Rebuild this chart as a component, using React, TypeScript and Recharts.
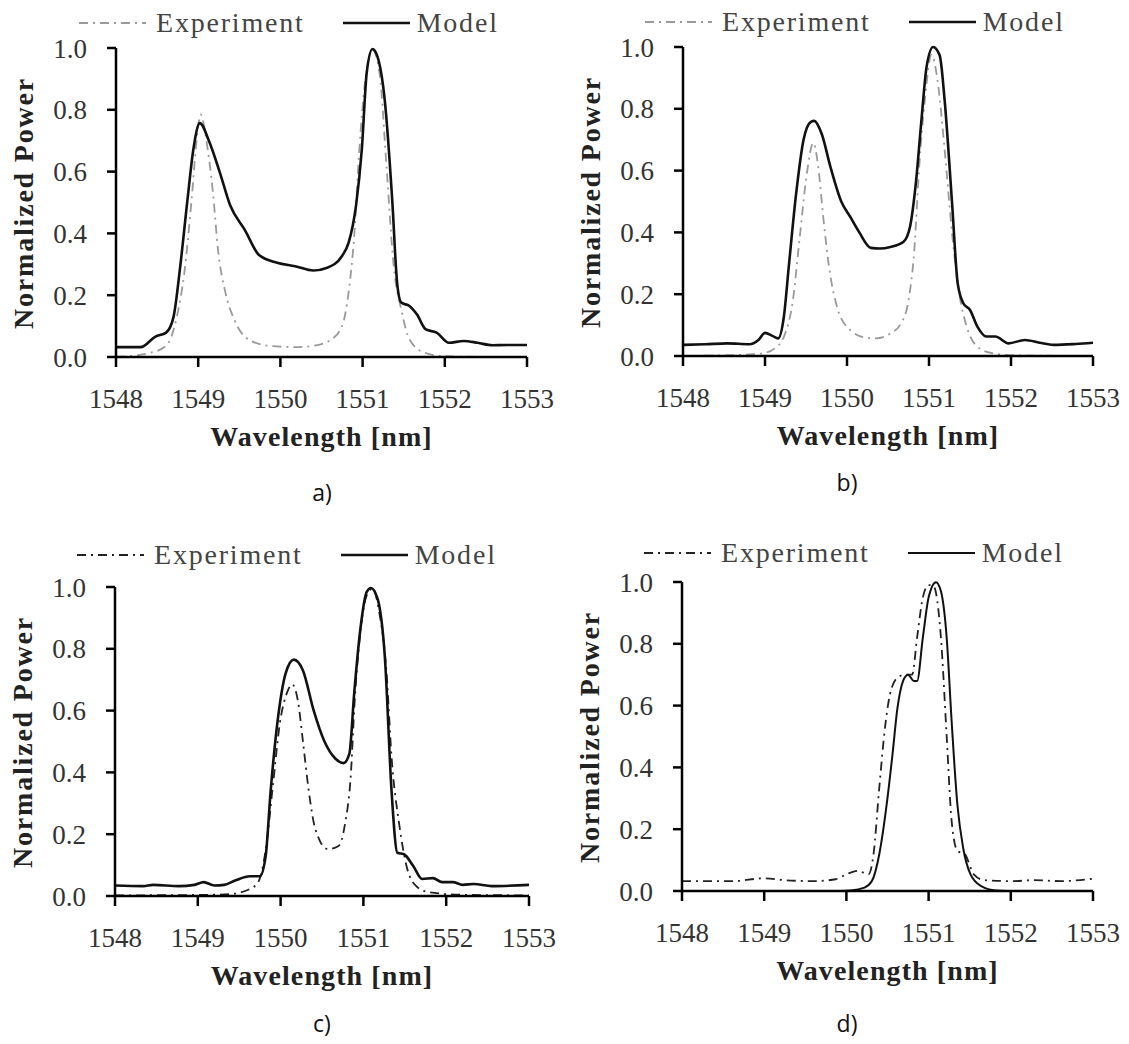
import { LineChart, Line, XAxis, YAxis, Legend } from 'recharts';

const SERIF = '"Liberation Serif", "Times New Roman", serif';

const xTicks = [1548, 1549, 1550, 1551, 1552, 1553];
const yTicks = [0, 0.2, 0.4, 0.6, 0.8, 1.0];

// panel a)
const aExpWl = [1548, 1548.39, 1548.61, 1548.74, 1548.83, 1548.92, 1548.98, 1549.03, 1549.1, 1549.18, 1549.24, 1549.33, 1549.44, 1549.61, 1549.87, 1550.18, 1550.4, 1550.62, 1550.75, 1550.83, 1550.9, 1550.96, 1551.03, 1551.12, 1551.21, 1551.29, 1551.38, 1551.47, 1551.57, 1551.75, 1551.97, 1552.23, 1553];
const aExpPow = [0, 0.012, 0.036, 0.13, 0.27, 0.51, 0.7, 0.785, 0.7, 0.53, 0.35, 0.21, 0.12, 0.057, 0.036, 0.032, 0.036, 0.057, 0.1, 0.21, 0.4, 0.67, 0.89, 0.995, 0.91, 0.62, 0.29, 0.154, 0.057, 0.014, 0.003, 0.001, 0];
const aModelWl = [1548, 1548.3, 1548.48, 1548.61, 1548.7, 1548.78, 1548.87, 1548.94, 1549.02, 1549.13, 1549.26, 1549.39, 1549.57, 1549.74, 1549.96, 1550.18, 1550.4, 1550.57, 1550.75, 1550.83, 1550.92, 1550.99, 1551.05, 1551.12, 1551.18, 1551.27, 1551.36, 1551.42, 1551.47, 1551.57, 1551.66, 1551.77, 1551.9, 1552.05, 1552.23, 1552.4, 1552.58, 1552.75, 1553];
const aModelPow = [0.032, 0.032, 0.066, 0.079, 0.13, 0.29, 0.51, 0.67, 0.757, 0.7, 0.6, 0.49, 0.41, 0.33, 0.305, 0.294, 0.28, 0.289, 0.327, 0.37, 0.49, 0.67, 0.92, 0.997, 0.973, 0.83, 0.51, 0.24, 0.176, 0.165, 0.138, 0.089, 0.079, 0.046, 0.052, 0.046, 0.038, 0.039, 0.039];

// panel b)
const bExpWl = [1548, 1548.81, 1548.98, 1549.12, 1549.23, 1549.34, 1549.42, 1549.51, 1549.59, 1549.65, 1549.71, 1549.78, 1549.89, 1550.04, 1550.22, 1550.35, 1550.53, 1550.66, 1550.75, 1550.82, 1550.88, 1550.95, 1551.03, 1551.1, 1551.19, 1551.28, 1551.37, 1551.46, 1551.59, 1551.77, 1552.04, 1553];
const bExpPow = [0, 0.005, 0.009, 0.025, 0.062, 0.18, 0.375, 0.59, 0.69, 0.61, 0.45, 0.29, 0.149, 0.084, 0.06, 0.057, 0.073, 0.106, 0.18, 0.34, 0.61, 0.83, 0.975, 0.9, 0.67, 0.4, 0.2, 0.095, 0.03, 0.009, 0.002, 0];
const bModelWl = [1548, 1548.27, 1548.54, 1548.81, 1548.92, 1549, 1549.09, 1549.16, 1549.23, 1549.29, 1549.38, 1549.47, 1549.56, 1549.6, 1549.69, 1549.8, 1549.93, 1550.04, 1550.15, 1550.29, 1550.4, 1550.53, 1550.69, 1550.77, 1550.84, 1550.91, 1550.97, 1551.05, 1551.13, 1551.19, 1551.28, 1551.35, 1551.42, 1551.5, 1551.59, 1551.7, 1551.81, 1551.97, 1552.17, 1552.35, 1552.52, 1552.79, 1553];
const bModelPow = [0.036, 0.038, 0.041, 0.038, 0.052, 0.075, 0.065, 0.057, 0.127, 0.289, 0.526, 0.7, 0.758, 0.761, 0.72, 0.61, 0.5, 0.45, 0.4, 0.35, 0.348, 0.353, 0.37, 0.42, 0.56, 0.77, 0.935, 1.0, 0.973, 0.83, 0.5, 0.235, 0.17, 0.149, 0.095, 0.063, 0.063, 0.041, 0.052, 0.043, 0.036, 0.039, 0.043];

// panel c)
const cExpWl = [1548, 1549.2, 1549.41, 1549.63, 1549.73, 1549.82, 1549.91, 1549.99, 1550.08, 1550.14, 1550.21, 1550.27, 1550.34, 1550.42, 1550.57, 1550.7, 1550.78, 1550.85, 1550.89, 1550.96, 1551.04, 1551.11, 1551.19, 1551.28, 1551.34, 1551.43, 1551.52, 1551.63, 1551.78, 1552.2, 1553];
const cExpPow = [0.002, 0.004, 0.007, 0.023, 0.045, 0.15, 0.365, 0.557, 0.66, 0.685, 0.63, 0.5, 0.34, 0.216, 0.152, 0.162, 0.237, 0.4, 0.61, 0.845, 0.973, 0.995, 0.92, 0.72, 0.45, 0.237, 0.098, 0.034, 0.013, 0.004, 0.002];
const cModelWl = [1548, 1548.34, 1548.46, 1548.77, 1548.96, 1549.07, 1549.2, 1549.32, 1549.45, 1549.63, 1549.75, 1549.82, 1549.88, 1549.97, 1550.06, 1550.16, 1550.27, 1550.4, 1550.53, 1550.66, 1550.76, 1550.83, 1550.89, 1550.96, 1551.04, 1551.09, 1551.17, 1551.26, 1551.34, 1551.41, 1551.49, 1551.6, 1551.71, 1551.84, 1551.95, 1552.08, 1552.2, 1552.33, 1552.55, 1553];
const cModelPow = [0.034, 0.032, 0.036, 0.032, 0.036, 0.045, 0.034, 0.036, 0.05, 0.064, 0.064, 0.13, 0.34, 0.58, 0.72, 0.765, 0.73, 0.6, 0.5, 0.445, 0.43, 0.46, 0.66, 0.856, 0.984, 0.997, 0.963, 0.77, 0.34, 0.14, 0.135, 0.098, 0.055, 0.058, 0.045, 0.045, 0.036, 0.039, 0.032, 0.036];

// panel d)
const dExpWl = [1548, 1548.63, 1548.99, 1549.25, 1549.6, 1549.87, 1550, 1550.14, 1550.27, 1550.33, 1550.4, 1550.47, 1550.53, 1550.62, 1550.71, 1550.8, 1550.86, 1550.93, 1551, 1551.06, 1551.15, 1551.22, 1551.28, 1551.35, 1551.44, 1551.55, 1551.68, 1552.04, 1552.26, 1552.61, 1553];
const dExpPow = [0.032, 0.032, 0.041, 0.035, 0.032, 0.038, 0.054, 0.065, 0.054, 0.119, 0.334, 0.53, 0.636, 0.69, 0.7, 0.7, 0.82, 0.95, 0.99, 0.987, 0.82, 0.5, 0.227, 0.13, 0.119, 0.054, 0.035, 0.032, 0.035, 0.032, 0.04];
const dModelWl = [1548, 1549.83, 1550.05, 1550.22, 1550.31, 1550.4, 1550.49, 1550.56, 1550.62, 1550.69, 1550.75, 1550.82, 1550.86, 1550.93, 1551, 1551.09, 1551.15, 1551.22, 1551.28, 1551.35, 1551.42, 1551.51, 1551.64, 1551.82, 1552.08, 1553];
const dModelPow = [0, 0, 0.002, 0.011, 0.032, 0.119, 0.28, 0.44, 0.59, 0.68, 0.7, 0.68, 0.68, 0.82, 0.95, 0.999, 0.97, 0.82, 0.55, 0.28, 0.14, 0.054, 0.016, 0.002, 0, 0];

const zip = (wl: number[], pow: number[]) => wl.map((x, i) => ({ x, y: pow[i] }));

type PanelProps = {
    left: number; top: number; width: number; height: number;
    plot: { l: number; r: number; t: number; b: number };
    legendTop: number; legendLeft: number;
    exp: { x: number; y: number }[]; model: { x: number; y: number }[];
    expColor: string; modelWidth: number;
    caption: string; captionX: number; captionY: number;
};

const LegendRow = ({ payload }: any) => (
    <div style={{ display: 'flex', alignItems: 'center', fontFamily: SERIF, fontSize: 28, lineHeight: '30px', color: '#444', letterSpacing: 1.8, whiteSpace: 'nowrap' }}>
        {(payload ?? []).map((entry: any, i: number) => (
            <div key={entry.value} style={{ display: 'flex', alignItems: 'center', marginLeft: i === 0 ? 0 : 38 }}>
                <svg width={67} height={10}>
                    <line x1={0} y1={5} x2={67} y2={5} stroke={entry.color}
                        strokeWidth={entry.payload?.strokeWidth ?? 2}
                        strokeDasharray={entry.payload?.strokeDasharray} />
                </svg>
                <span style={{ marginLeft: i === 0 ? 10 : 7 }}>{entry.value}</span>
            </div>
        ))}
    </div>
);

function Panel(p: PanelProps) {
    const yAxisW = 60;
    const xAxisH = 60;
    const margin = {
        left: p.plot.l - p.left - yAxisW,
        right: p.left + p.width - p.plot.r,
        top: p.plot.t - p.top,
        bottom: p.top + p.height - p.plot.b - xAxisH,
    };
    const tickStyle = { fill: '#333', fontSize: 27, fontFamily: SERIF };
    return (
        <>
            <div style={{ position: 'absolute', left: p.left, top: p.top }}>
                <LineChart width={p.width} height={p.height} margin={margin}>
                    <XAxis
                        type="number"
                        dataKey="x"
                        domain={[1548, 1553]}
                        ticks={xTicks}
                        height={xAxisH}
                        allowDataOverflow
                        axisLine={{ stroke: '#000', strokeWidth: 2.5 }}
                        tickLine={{ stroke: '#000', strokeWidth: 2.5 }}
                        tickSize={10}
                        tickMargin={22}
                        tick={tickStyle}
                    />
                    <YAxis
                        type="number"
                        domain={[0, 1]}
                        ticks={yTicks}
                        width={yAxisW}
                        axisLine={{ stroke: '#000', strokeWidth: 2.5 }}
                        tickLine={{ stroke: '#000', strokeWidth: 2.5 }}
                        tickSize={9}
                        tickMargin={20}
                        tick={tickStyle}
                        tickFormatter={(v: number) => v.toFixed(1)}
                    />
                    <Legend
                        layout="horizontal"
                        verticalAlign="middle"
                        align="center"
                        wrapperStyle={{ top: p.legendTop, left: p.legendLeft, width: 'auto' }}
                        content={<LegendRow />}
                    />
                    <Line
                        data={p.exp}
                        dataKey="y"
                        name="Experiment"
                        type="monotone"
                        stroke={p.expColor}
                        strokeWidth={1.8}
                        strokeDasharray="9 5 2 5"
                        dot={false}
                        isAnimationActive={false}
                    />
                    <Line
                        data={p.model}
                        dataKey="y"
                        name="Model"
                        type="monotone"
                        stroke="#111"
                        strokeWidth={p.modelWidth}
                        dot={false}
                        isAnimationActive={false}
                    />
                </LineChart>
            </div>
            <div style={{ position: 'absolute', left: (p.plot.l + p.plot.r) / 2, top: p.plot.b + 80, transform: 'translate(-50%, -50%)', fontFamily: SERIF, fontWeight: 'bold', fontSize: 28, letterSpacing: 1.1, color: '#222', whiteSpace: 'nowrap' }}>
                Wavelength [nm]
            </div>
            <div style={{ position: 'absolute', left: p.plot.l - 92, top: (p.plot.t + p.plot.b) / 2, transform: 'translate(-50%, -50%) rotate(-90deg)', fontFamily: SERIF, fontWeight: 'bold', fontSize: 28, letterSpacing: 1.8, color: '#222', whiteSpace: 'nowrap' }}>
                Normalized Power
            </div>
            <div style={{ position: 'absolute', left: p.captionX, top: p.captionY, transform: 'translate(-50%, -50%)', fontFamily: '"Open Sans", "Noto Sans", sans-serif', fontSize: 23, color: '#111' }}>
                {p.caption}
            </div>
        </>
    );
}

export default function App() {
    return (
        <div style={{ position: 'absolute', left: 0, top: 0, width: 1129, height: 1044, background: '#fff', overflow: 'hidden' }}>
            <Panel left={0} top={0} width={560} height={520}
                plot={{ l: 116, r: 527, t: 48, b: 357 }}
                legendTop={8} legendLeft={79}
                exp={zip(aExpWl, aExpPow)} model={zip(aModelWl, aModelPow)}
                expColor="#9a9a9a" modelWidth={2.6}
                caption="a)" captionX={322} captionY={492} />
            <Panel left={560} top={0} width={569} height={520}
                plot={{ l: 683, r: 1093, t: 47, b: 356 }}
                legendTop={7} legendLeft={85}
                exp={zip(bExpWl, bExpPow)} model={zip(bModelWl, bModelPow)}
                expColor="#9a9a9a" modelWidth={2.6}
                caption="b)" captionX={847} captionY={482} />
            <Panel left={0} top={520} width={560} height={524}
                plot={{ l: 115, r: 529, t: 587, b: 896 }}
                legendTop={20} legendLeft={77}
                exp={zip(cExpWl, cExpPow)} model={zip(cModelWl, cModelPow)}
                expColor="#222" modelWidth={2.6}
                caption="c)" captionX={322} captionY={1023} />
            <Panel left={560} top={520} width={569} height={524}
                plot={{ l: 682, r: 1093, t: 582, b: 891 }}
                legendTop={18} legendLeft={84}
                exp={zip(dExpWl, dExpPow)} model={zip(dModelWl, dModelPow)}
                expColor="#222" modelWidth={2}
                caption="d)" captionX={847} captionY={1023} />
        </div>
    );
}
